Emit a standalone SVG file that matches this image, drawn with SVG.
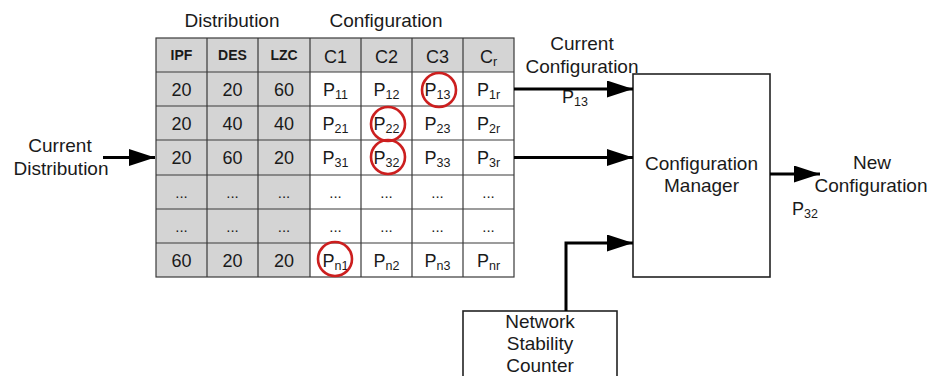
<svg xmlns="http://www.w3.org/2000/svg" width="928" height="376" viewBox="0 0 928 376">
<style>
text{font-family:"Liberation Sans",Arial,sans-serif;fill:#1a1a1a;font-size:18px;text-anchor:middle}
.l{font-size:19px}
.h{font-weight:bold;font-size:14px}
.s{font-size:12.5px}
.d{font-size:15px}
.g{fill:#d4d4d4}
.grid{stroke:#3a3a3a;stroke-width:1.2;fill:none}
.box{fill:#fff;stroke:#222;stroke-width:1.6}
.ring{fill:none;stroke:#cc1f1f;stroke-width:2.6}
.c{stroke:#000;stroke-width:3;fill:none}
</style>
<defs>
<marker id="ah" markerUnits="userSpaceOnUse" markerWidth="27" markerHeight="18" refX="26" refY="8.5" orient="auto">
<path d="M0,0 L26,8.5 L0,17 z" fill="#000"/>
</marker>
</defs>
<rect width="928" height="376" fill="#fff"/>
<g id="titles">
<text class="l" x="232" y="27">Distribution</text>
<text class="l" x="386" y="27">Configuration</text>
</g>
<g id="table">
<rect class="g" x="156" y="38" width="358" height="34"/>
<rect class="g" x="156" y="72" width="154" height="205"/>
<g class="grid">
<rect x="156" y="38" width="358" height="239"/>
<path d="M207,38V277M258,38V277M310,38V277M361,38V277M412,38V277M463,38V277"/>
<path d="M156,72H514M156,106H514M156,140H514M156,175H514M156,209H514M156,243H514"/>
</g>
<text class="h" x="181.5" y="60">IPF</text>
<text class="h" x="232.5" y="60">DES</text>
<text class="h" x="284" y="60">LZC</text>
<text x="335.5" y="63">C1</text>
<text x="386.5" y="63">C2</text>
<text x="437.5" y="63">C3</text>
<text x="488.5" y="63">C<tspan class="s" dy="3">r</tspan></text>
<text x="181.5" y="96">20</text><text x="232.5" y="96">20</text><text x="284" y="96">60</text>
<text x="335.5" y="96">P<tspan class="s" dy="3">11</tspan></text>
<text x="386.5" y="96">P<tspan class="s" dy="3">12</tspan></text>
<text x="437.5" y="96">P<tspan class="s" dy="3">13</tspan></text>
<text x="488.5" y="96">P<tspan class="s" dy="3">1r</tspan></text>
<text x="181.5" y="130">20</text><text x="232.5" y="130">40</text><text x="284" y="130">40</text>
<text x="335.5" y="130">P<tspan class="s" dy="3">21</tspan></text>
<text x="386.5" y="130">P<tspan class="s" dy="3">22</tspan></text>
<text x="437.5" y="130">P<tspan class="s" dy="3">23</tspan></text>
<text x="488.5" y="130">P<tspan class="s" dy="3">2r</tspan></text>
<text x="181.5" y="164">20</text><text x="232.5" y="164">60</text><text x="284" y="164">20</text>
<text x="335.5" y="164">P<tspan class="s" dy="3">31</tspan></text>
<text x="386.5" y="164">P<tspan class="s" dy="3">32</tspan></text>
<text x="437.5" y="164">P<tspan class="s" dy="3">33</tspan></text>
<text x="488.5" y="164">P<tspan class="s" dy="3">3r</tspan></text>
<text class="d" x="181.5" y="198">...</text><text class="d" x="232.5" y="198">...</text><text class="d" x="284" y="198">...</text>
<text class="d" x="335.5" y="198">...</text><text class="d" x="386.5" y="198">...</text><text class="d" x="437.5" y="198">...</text><text class="d" x="488.5" y="198">...</text>
<text class="d" x="181.5" y="232">...</text><text class="d" x="232.5" y="232">...</text><text class="d" x="284" y="232">...</text>
<text class="d" x="335.5" y="232">...</text><text class="d" x="386.5" y="232">...</text><text class="d" x="437.5" y="232">...</text><text class="d" x="488.5" y="232">...</text>
<text x="181.5" y="267">60</text><text x="232.5" y="267">20</text><text x="284" y="267">20</text>
<text x="335.5" y="267">P<tspan class="s" dy="3">n1</tspan></text>
<text x="386.5" y="267">P<tspan class="s" dy="3">n2</tspan></text>
<text x="437.5" y="267">P<tspan class="s" dy="3">n3</tspan></text>
<text x="488.5" y="267">P<tspan class="s" dy="3">nr</tspan></text>
<circle class="ring" cx="439" cy="90" r="17"/>
<circle class="ring" cx="388" cy="124" r="17"/>
<circle class="ring" cx="388" cy="157" r="17"/>
<circle class="ring" cx="335" cy="259" r="17"/>
</g>
<g id="current-distribution">
<text class="l" x="60" y="152">Current</text>
<text class="l" x="61" y="175">Distribution</text>
</g>
<g id="current-configuration">
<text class="l" x="582" y="50">Current</text>
<text class="l" x="582" y="73">Configuration</text>
<text x="575" y="103">P<tspan class="s" dy="3">13</tspan></text>
</g>
<g id="configuration-manager">
<rect class="box" x="633" y="74" width="137" height="203"/>
<text class="l" x="701.5" y="170">Configuration</text>
<text class="l" x="701.5" y="192">Manager</text>
</g>
<g id="new-configuration">
<text class="l" x="872" y="169">New</text>
<text class="l" x="871" y="192">Configuration</text>
<text x="805" y="215">P<tspan class="s" dy="3">32</tspan></text>
</g>
<g id="network-stability-counter">
<rect class="box" x="463" y="311" width="154" height="80"/>
<text class="l" x="540" y="328">Network</text>
<text class="l" x="540" y="350">Stability</text>
<text class="l" x="540" y="372">Counter</text>
</g>
<g id="connectors">
<path class="c" d="M103,157.5H155" marker-end="url(#ah)"/>
<path class="c" d="M514,89H633" marker-end="url(#ah)"/>
<path class="c" d="M514,157.5H633" marker-end="url(#ah)"/>
<path class="c" d="M566,311V243H633" marker-end="url(#ah)"/>
<path class="c" d="M770,174H820" marker-end="url(#ah)"/>
</g>
</svg>
